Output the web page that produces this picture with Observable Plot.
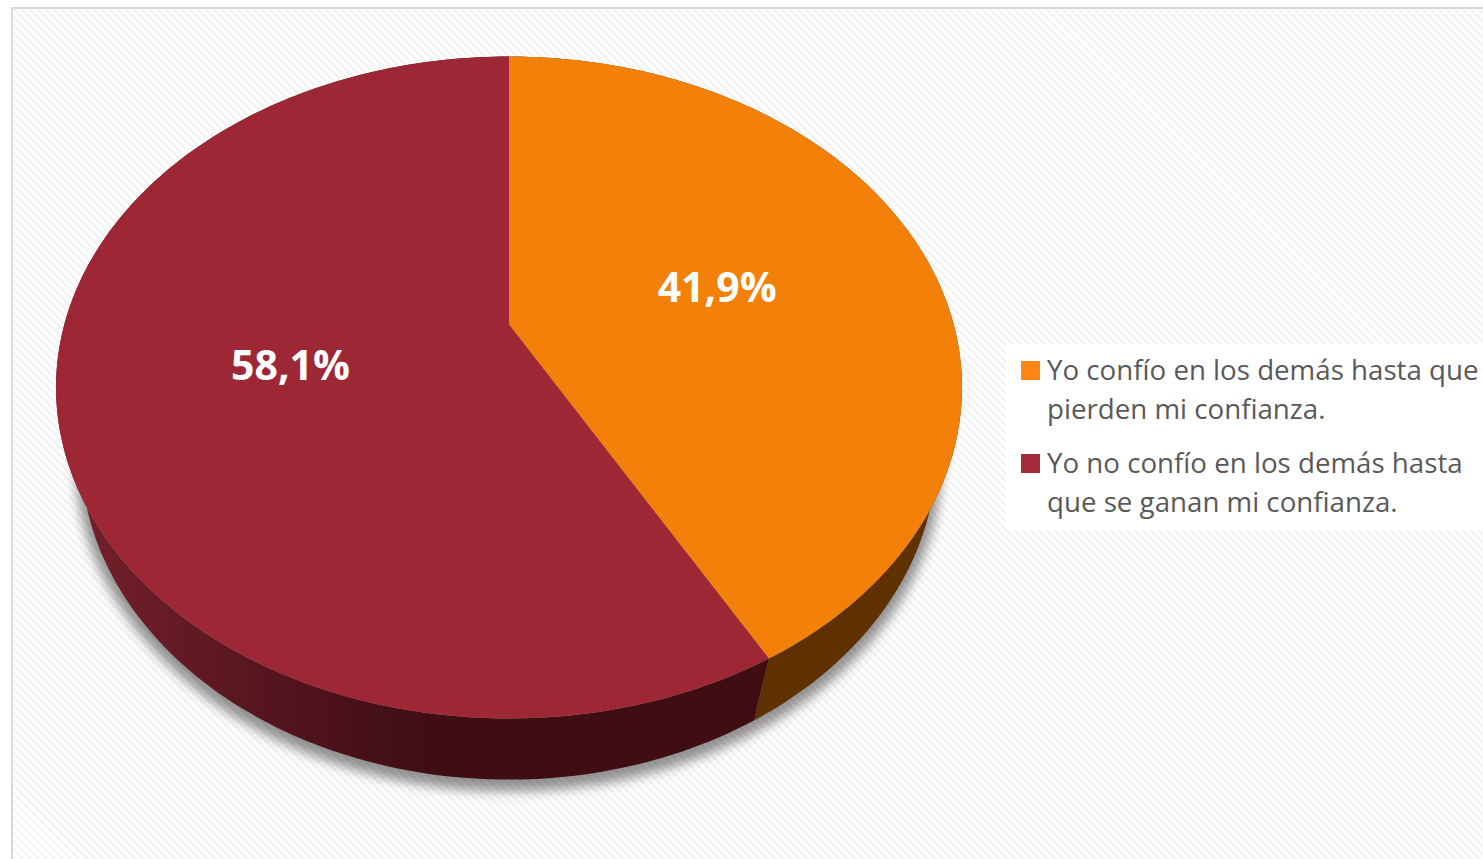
<!DOCTYPE html>
<html lang="es">
<head>
<meta charset="utf-8">
<script src="https://cdn.jsdelivr.net/npm/d3@7"></script>
<script src="https://cdn.jsdelivr.net/npm/@observablehq/plot@0.6"></script>
<style>
html,body{margin:0;padding:0;background:#fff;width:1483px;height:859px;overflow:hidden}
#frame{position:absolute;left:11px;top:7px;width:1472px;height:852px;box-sizing:border-box;
  border-left:2px solid #d9d9d9;border-top:2px solid #d9d9d9;
  background:repeating-linear-gradient(45deg,#f4f4f4 0 2.8px,#fff 2.8px 5.66px)}
#chart{position:absolute;left:0;top:0}
#chart svg{display:block;background:transparent}
#legend{position:absolute;left:1006px;top:344px;width:477px;height:186px;background:#fff;
  font-family:"Open Sans",sans-serif;font-size:27.7px;line-height:39px;color:#595959}
.item{position:absolute;left:41px;white-space:nowrap}
.sw{position:absolute;left:15px;width:19px;height:19px}
</style>
</head>
<body>
<div id="frame"></div>
<div id="chart"></div>
<div id="legend"></div>
<script>
const categories = ["Yo confío en los demás hasta que pierden mi confianza.", "Yo no confío en los demás hasta que se ganan mi confianza."];
const legendLines = [["Yo confío en los demás hasta que", "pierden mi confianza."], ["Yo no confío en los demás hasta", "que se ganan mi confianza."]];
const values = [41.9, 58.1];
const valueLabels = ["41,9%", "58,1%"];
const topColors = ["#f28009", "#9e2735"];
const swatchColors = ["#ff8411", "#a52a3a"];
const wallColors = ["#5f3100", "url(#wallRed)"];
const labelNudgeX = [-2, 2];
const labelNudgeY = [4, 1];

// Tilted-disc projection: a point of the unit disc seen in perspective.
const tilt = 0.1903;
const upper = {k: tilt, sx: 1, sy: 1, ox: 0, oy: 0};
const lower = {k: tilt, sx: 0.9445, sy: 0.9875, ox: -0.001, oy: -0.207};
const project = (a, r, d) => {
  const u = r * Math.sin(a), v = r * Math.cos(a), w = 1 + d.k * v;
  return {x: d.ox + d.sx * u / w, y: d.oy + d.sy * v / w};
};

const total = d3.sum(values);
let acc = 0;
const slices = values.map((v, i) => {
  const start = acc / total * 2 * Math.PI;
  acc += v;
  return {i, start, end: acc / total * 2 * Math.PI};
});
const arc = (s, d) => d3.range(0, 181).map(t => project(s.start + (s.end - s.start) * t / 180, 1, d));

const shadow = d3.range(0, 361).map(t => project(t * Math.PI / 180, 1.012, lower));
const walls = slices.flatMap(s => [...arc(s, upper), ...arc(s, lower).reverse()].map(p => ({...p, slice: s.i})));
const faces = slices.flatMap(s => [{x: 0, y: 0}, ...arc(s, upper)].map(p => ({...p, slice: s.i})));
const labels = slices.map(s => ({...project((s.start + s.end) / 2, 0.5, upper), text: valueLabels[s.i], i: s.i}));

const defs = () => {
  const g = document.createElementNS("http://www.w3.org/2000/svg", "g");
  g.innerHTML = `<defs><linearGradient id="wallRed" gradientUnits="userSpaceOnUse" x1="83" x2="430" y1="0" y2="0">
    <stop offset="0" stop-color="#741f2b"/><stop offset="0.45" stop-color="#5a1720"/>
    <stop offset="0.75" stop-color="#4a1119"/><stop offset="1" stop-color="#3f0e13"/></linearGradient></defs>`;
  return g;
};

const plot = Plot.plot({
  width: 1483, height: 859, margin: 0,
  x: {axis: null, domain: [-1, 1], range: [63.8, 953.2]},
  y: {axis: null, domain: [-1, 1], range: [643, 5]},
  style: {background: "transparent"},
  marks: [
    defs,
    Plot.line(shadow, {x: "x", y: "y", curve: "linear-closed", fill: "#000", fillOpacity: 0.42, stroke: "none", imageFilter: "blur(6px)", dy: 6}),
    Plot.line(walls.filter(d => d.slice === 0), {x: "x", y: "y", curve: "linear-closed", fill: wallColors[0], stroke: "none"}),
    Plot.line(walls.filter(d => d.slice === 1), {x: "x", y: "y", curve: "linear-closed", fill: wallColors[1], stroke: "none"}),
    ...slices.map(s => Plot.line(faces.filter(d => d.slice === s.i), {x: "x", y: "y", curve: "linear-closed", fill: topColors[s.i], stroke: "none"})),
    ...labels.map(l => Plot.text([l], {x: "x", y: "y", text: "text", fill: "#fff", fontFamily: "Open Sans", fontWeight: 700, fontSize: 41, textAnchor: "middle", dx: labelNudgeX[l.i], dy: labelNudgeY[l.i]}))
  ]
});
document.getElementById("chart").append(plot);

const legend = document.getElementById("legend");
const swatchTops = [17, 110];
const textTops = [6, 99];
legendLines.forEach((lines, i) => {
  const sw = document.createElement("div");
  sw.className = "sw";
  sw.style.top = swatchTops[i] + "px";
  sw.style.background = swatchColors[i];
  sw.title = categories[i];
  legend.append(sw);
  lines.forEach((line, j) => {
    const it = document.createElement("div");
    it.className = "item";
    it.style.top = (textTops[i] + j * 39) + "px";
    it.textContent = line;
    legend.append(it);
  });
});
</script>
</body>
</html>
